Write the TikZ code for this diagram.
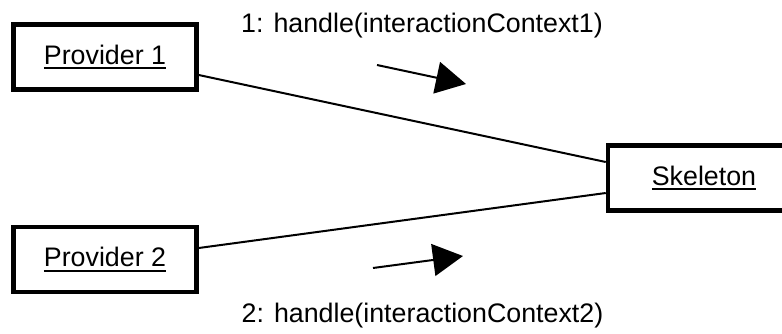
\documentclass[tikz,border=0pt]{standalone}
\usepackage{fontspec}
\setmainfont{Liberation Sans}
\usetikzlibrary{arrows.meta}
\newcommand{\ulbold}[1]{\setbox0=\hbox{#1}\vtop{\box0\kern1.5pt\hrule height 1pt}}
\tikzset{
  objbox/.style={draw, line width=2.25pt, inner sep=0pt, minimum width=91.5pt, minimum height=32.5pt, fill=white},
  link/.style={line width=1pt},
  msgarrow/.style={line width=1pt, -{Triangle[length=15pt,width=16pt]}},
  msglabel/.style={anchor=base, inner sep=0pt},
}
\begin{document}
\begin{tikzpicture}[x=0.5pt,y=-0.5pt,font=\fontsize{13.4pt}{16pt}\selectfont]
\useasboundingbox (0,0) rectangle (782,333);
\clip (0,0) rectangle (782,333);
\node[objbox] (p1) at (105,57) {\ulbold{Provider 1}};
\node[objbox] (p2) at (105,259.5) {\ulbold{Provider 2}};
\node[objbox, minimum width=96pt] (sk) at (704,178) {\ulbold{Skeleton}};
\draw[link] ([yshift=-9pt]p1.east) -- ([yshift=8pt]sk.west);
\draw[link] ([yshift=5.75pt]p2.east) -- ([yshift=-7.5pt]sk.west);
\coordinate (a1s) at (377,65);
\coordinate (a1e) at (466,84);
\coordinate (a2s) at (373,268);
\coordinate (a2e) at (463,256);
\draw[msgarrow] (a1s) -- (a1e);
\draw[msgarrow] (a2s) -- (a2e);
\node[msglabel] (l1) at (422,32) {1: handle(interactionContext1)};
\node[msglabel] (l2) at (422.5,322) {2: handle(interactionContext2)};
\end{tikzpicture}
\end{document}
